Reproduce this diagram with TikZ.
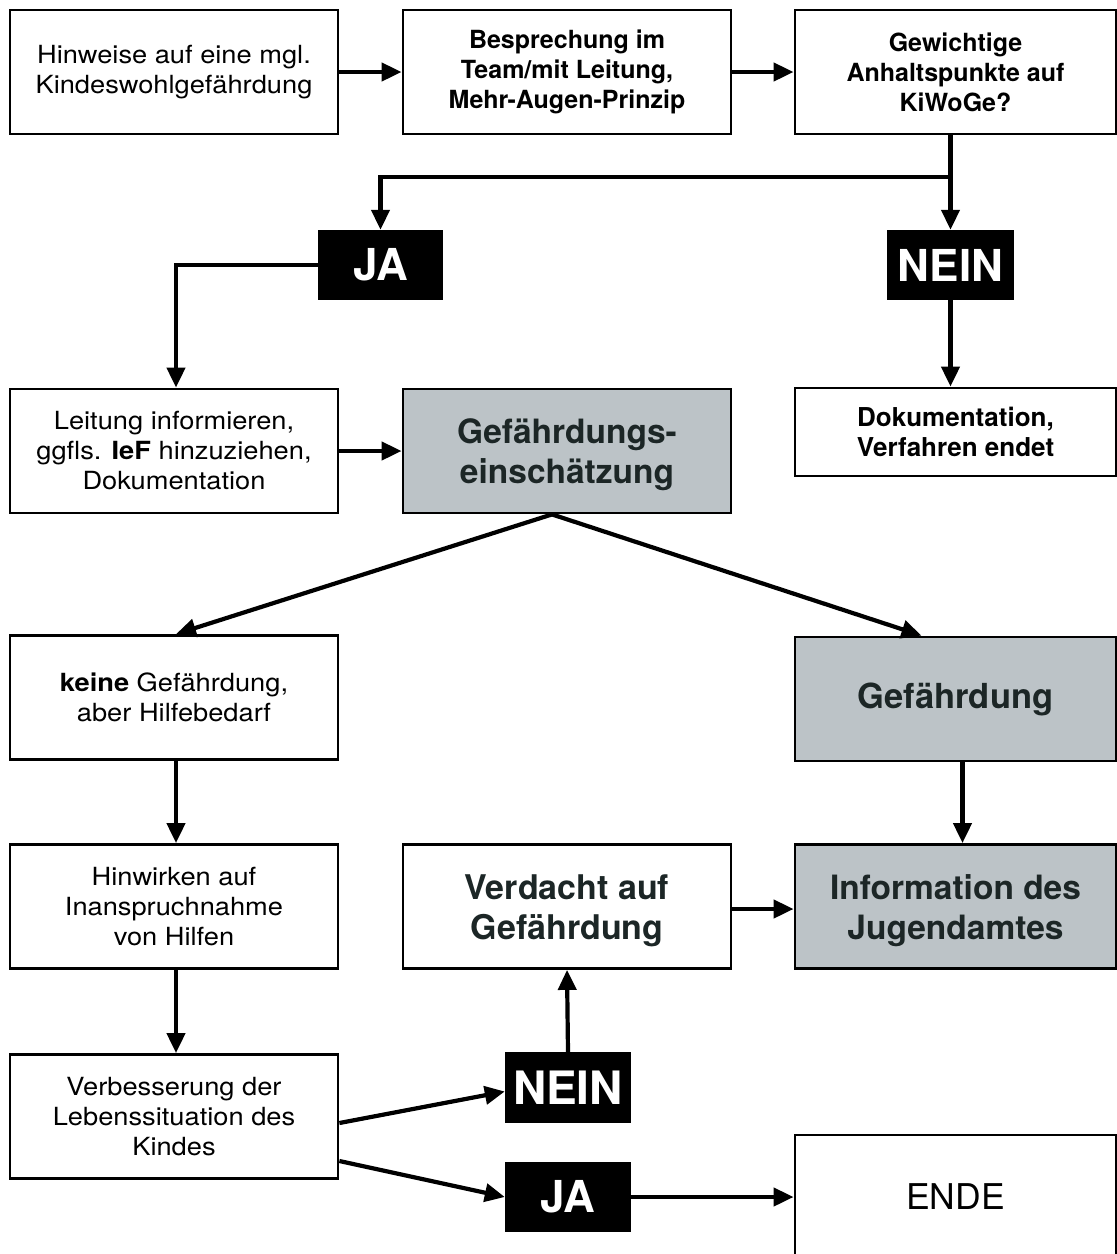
\documentclass[tikz,border=0pt]{standalone}
\usepackage{fontspec}
\setmainfont{TeX Gyre Heros}
\newfontfamily\widefont[FakeStretch=1.09]{TeX Gyre Heros}
\usetikzlibrary{arrows.meta,calc}
\definecolor{boxgrey}{HTML}{BCC3C7}
\definecolor{darktext}{HTML}{1C2626}
\begin{document}
\begin{tikzpicture}[x=1pt,y=-1pt,
  box/.style={draw=black, line width=2.8pt, fill=white, minimum width=328pt, minimum height=124pt, inner sep=0pt, align=center, font=\widefont\fontsize{25}{30}\selectfont},
  boldbox/.style={box, font=\fontsize{25}{30}\selectfont\bfseries},
  greybox/.style={box, fill=boxgrey, text=darktext, font=\fontsize{33.5}{40}\selectfont\bfseries},
  twoline/.style={text height=73pt},
  tag/.style={fill=black, text=white, inner sep=0pt, minimum width=126pt, minimum height=70pt, font=\fontsize{44}{44}\selectfont\bfseries},
  arr/.style={line width=4.2pt, -{Triangle[length=20pt,width=18pt]}}
]
\useasboundingbox (0,0) rectangle (1117,1254);
\clip (0,0) rectangle (1117,1254);
\fill[white] (0,0) rectangle (1117,1254);

% row 1
\node[box] (A) at (174,72) {Hinweise auf eine mgl.\\Kindeswohlgefährdung};
\node[boldbox] (B) at (567,72) {Besprechung im\\Team/mit Leitung,\\Mehr-Augen-Prinzip};
\node[boldbox, minimum width=321pt] (C) at (955.5,72) {Gewichtige\\Anhaltspunkte auf\\KiWoGe?};

% decision tags
\node[tag, minimum width=125pt] (JA1) at (380.5,265) {JA};
\node[tag, minimum width=127pt] (NEIN1) at (950.5,265) {NEIN};

% row 3
\node[box] (L) at (174,451) {Leitung informieren,\\ggfls. \textbf{IeF} hinzuziehen,\\Dokumentation};
\node[greybox, twoline] (G) at (567,451) {Gefährdungs-\\einschätzung};
\node[boldbox, minimum width=321pt, minimum height=88pt, font=\fontsize{26}{30}\selectfont\bfseries] (D) at (955.5,432) {Dokumentation,\\Verfahren endet};

% row 4
\node[box] (K) at (174,697.5) {\textbf{keine} Gefährdung,\\aber Hilfebedarf};
\node[greybox, minimum width=321pt, font=\fontsize{34.5}{40}\selectfont\bfseries] (GF) at (955.5,699) {Gefährdung};

% row 5
\node[box] (H) at (174,906.5) {Hinwirken auf\\Inanspruchnahme\\von Hilfen};
\node[box, twoline, font=\fontsize{34}{40}\selectfont\bfseries, text=darktext] (V) at (567,906.5) {Verdacht auf\\Gefährdung};
\node[greybox, twoline, minimum width=321pt] (I) at (955.5,906.5) {Information des\\Jugendamtes};

% row 6
\node[box] (VB) at (174,1116.5) {Verbesserung der\\Lebenssituation des\\Kindes};
\node[tag, minimum height=71pt, font=\fontsize{46}{46}\selectfont\bfseries] (NEIN2) at (568,1087.5) {NEIN};
\node[tag] (JA2) at (568,1197) {JA};
\node[box, minimum width=321pt, font=\fontsize{35.5}{40}\selectfont] (E) at (955.5,1197) {ENDE};

% connectors
\draw[arr] (A.east) -- (B.west);
\draw[arr] (B.east) -- (C.west);
\coordinate (split) at (NEIN1.north |- 0,177);
\draw[arr] (C.south -| NEIN1.north) -- (NEIN1.north);
\draw[arr] (split) -| (JA1.north);
\draw[arr] (JA1.west) -| ([xshift=2pt]L.north);
\draw[arr] (NEIN1.south) -- (NEIN1.south |- D.north);
\draw[arr] (L.east) -- (G.west);
\coordinate (gs) at ([xshift=-15pt]G.south);
\draw[arr] (gs) -- ([xshift=2pt]K.north);
\draw[arr] (gs) -- ([xshift=-34pt]GF.north);
\draw[arr] ([xshift=7pt]GF.south) -- ([xshift=7pt]I.north);
\draw[arr] ([xshift=2pt]K.south) -- ([xshift=2pt]H.north);
\draw[arr] ([xshift=2pt]H.south) -- ([xshift=2pt]VB.north);
\draw[arr] ([yshift=-6.5pt]VB.east) -- ([yshift=-4pt]NEIN2.west);
\draw[arr] ([yshift=-44.5pt]VB.east) -- (JA2.west);
\draw[arr] (NEIN2.north) -- (V.south);
\draw[arr] ([yshift=-2.5pt]V.east) -- ([yshift=-2.5pt]I.west);
\draw[arr] (JA2.east) -- (E.west);
\end{tikzpicture}
\end{document}
